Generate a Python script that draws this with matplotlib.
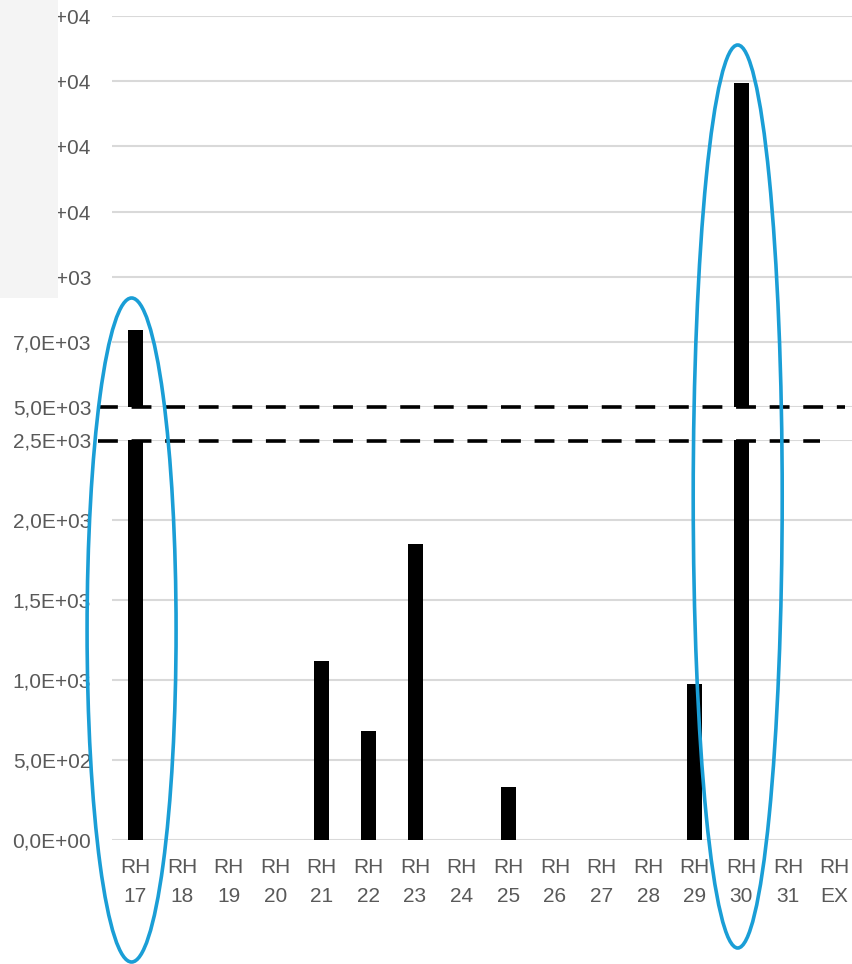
import matplotlib
matplotlib.use("Agg")
import matplotlib.pyplot as plt
from matplotlib.patches import Ellipse, Rectangle
from matplotlib.lines import Line2D
from matplotlib.transforms import blended_transform_factory

plt.rcParams['font.family'] = ['Liberation Sans', 'DejaVu Sans']

categories = ["RH\n17", "RH\n18", "RH\n19", "RH\n20", "RH\n21", "RH\n22", "RH\n23", "RH\n24",
              "RH\n25", "RH\n26", "RH\n27", "RH\n28", "RH\n29", "RH\n30", "RH\n31", "RH\nEX"]
values = [7370, 0, 0, 0, 1120, 680, 1850, 0, 330, 0, 0, 0, 975, 14940, 0, 0]

low_ticks = [0, 500, 1000, 1500, 2000, 2500]
low_labels = ["0,0E+00", "5,0E+02", "1,0E+03", "1,5E+03", "2,0E+03", "2,5E+03"]
high_ticks = [5000, 7000, 9000, 11000, 13000, 15000, 17000]
high_labels = ["5,0E+03", "7,0E+03", "9,0E+03", "1,1E+04", "1,3E+04", "1,5E+04", "1,7E+04"]

W, H = 853, 964
fig = plt.figure(figsize=(W / 100, H / 100), dpi=100)

def fx(px):
    return px / W

def fy(py):
    return 1 - py / H

left, right = fx(112), fx(858)
ax_low = fig.add_axes([left, fy(840), right - left, fy(440) - fy(840)])
ax_high = fig.add_axes([left, fy(407), right - left, fy(16) - fy(407)])

text_color = "#595959"
grid_color = "#d9d9d9"
x = list(range(len(categories)))

for ax, ticks, labels, lim in [(ax_low, low_ticks, low_labels, (0, 2500)),
                               (ax_high, high_ticks, high_labels, (5000, 17000))]:
    ax.bar(x, values, width=0.32, color="black", zorder=3)
    ax.set_ylim(*lim)
    ax.set_xlim(-0.5, len(categories) - 0.5)
    ax.set_yticks(ticks)
    ax.set_yticklabels(labels)
    ax.grid(axis="y", color=grid_color, linewidth=1.5, zorder=0)
    ax.set_axisbelow(True)
    for s in ax.spines.values():
        s.set_visible(False)
    ax.tick_params(axis="y", length=0, pad=15, labelsize=15, labelcolor=text_color)
    ax.patch.set_alpha(0)

ax_low.set_xticks(x)
ax_low.set_xticklabels(categories, linespacing=1.65)
ax_low.tick_params(axis="x", length=0, pad=13, labelsize=15, labelcolor=text_color)
ax_high.set_xticks([])

# dashed break lines
fig.add_artist(Line2D([fx(98), fx(845)], [fy(407), fy(407)], transform=fig.transFigure,
                      color="black", linewidth=2.6, linestyle=(0, (5.5, 3.8)), zorder=5))
fig.add_artist(Line2D([fx(98), fx(820)], [fy(441), fy(441)], transform=fig.transFigure,
                      color="black", linewidth=2.6, linestyle=(0, (5.5, 3.8)), zorder=5))

# highlight ellipses
bt = blended_transform_factory(ax_low.transData, fig.transFigure)
px_per_cat = (858 - 112) / len(categories)
for idx, top, bottom in [(0, 298, 962), (13, 45, 948)]:
    el = Ellipse((idx - 0.08, (fy(top) + fy(bottom)) / 2), 89 / px_per_cat, fy(top) - fy(bottom),
                 transform=bt, fill=False, edgecolor="#1a9ed6", linewidth=2.6, zorder=6)
    fig.add_artist(el)

# grey overlay at top-left
fig.add_artist(Rectangle((0, fy(298)), fx(58), 1 - fy(298), transform=fig.transFigure,
                         facecolor="#f4f4f4", edgecolor="none", zorder=10))

fig.savefig("out.png", dpi=100)
